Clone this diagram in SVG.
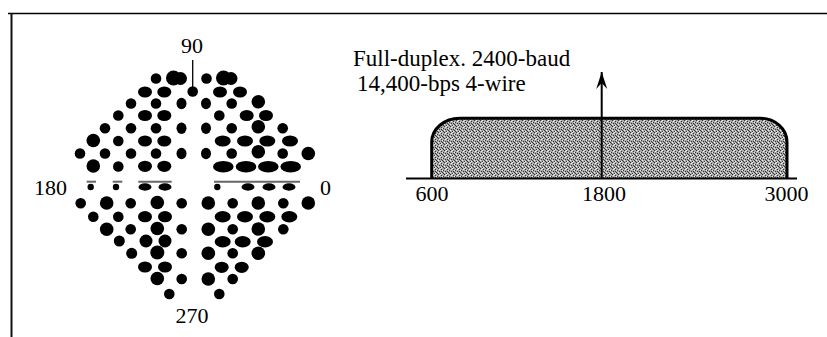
<svg xmlns="http://www.w3.org/2000/svg" width="827" height="337" viewBox="0 0 827 337">
<style>
.t{font-family:"Liberation Serif","Times New Roman",serif;font-size:22px;fill:#000}
.h{font-family:"Liberation Serif","Times New Roman",serif;font-size:23px;fill:#000}
.dots ellipse{fill:#000}
.gl{stroke:#666;stroke-width:2;fill:none}
</style>
<defs>
<pattern id="stip" width="6" height="6" patternUnits="userSpaceOnUse">
<rect width="6" height="6" fill="#aaaaaa"/>
<path d="M0 0h1v1H0zM3 1h1v1H3zM1 3h1v1H1zM4 4h1v1H4zM5 2h1v1H5zM2 5h1v1H2zM5 5h1v1H5zM3 3h1v1H3z" fill="#333"/>
<path d="M2 0h1v1H2zM0 4h1v1H0zM4 2h1v1H4zM1 1h1v1H1zM3 5h1v1H3z" fill="#eee"/>
</pattern>
<marker id="ah" viewBox="-17 -6 18 12" markerWidth="18" markerHeight="12" refX="0" refY="0" orient="auto" markerUnits="userSpaceOnUse">
<path d="M0,0 L-17,-5.5 L-11,0 L-17,5.5 Z" fill="#000"/>
</marker>
</defs>
<rect width="827" height="337" fill="#fff"/>
<g id="border" fill="none">
<line x1="8" y1="13.5" x2="827" y2="13.5" stroke="#000" stroke-width="1.5"/>
<line x1="11.5" y1="13" x2="11.5" y2="337" stroke="#111" stroke-width="2"/>
</g>
<g id="constellation">
<text class="t" x="192" y="53" text-anchor="middle">90</text>
<text class="t" x="67" y="195" text-anchor="end">180</text>
<text class="t" x="320" y="195">0</text>
<text class="t" x="192" y="323" text-anchor="middle">270</text>
<line x1="192.7" y1="60" x2="192.7" y2="90" stroke="#000" stroke-width="1.3"/>
<g class="gl">
<line x1="86.7" y1="181.7" x2="96" y2="181.7"/>
<line x1="112.7" y1="181.7" x2="122.3" y2="181.7"/>
<line x1="138.3" y1="181.7" x2="171.7" y2="181.7"/>
<line x1="214" y1="181.7" x2="300" y2="181.7"/>
</g>
<g class="dots">
<ellipse cx="156" cy="78.5" rx="5.3" ry="5.3"/>
<ellipse cx="173.5" cy="78" rx="7.5" ry="7.5"/>
<ellipse cx="180.5" cy="78.5" rx="6.5" ry="6.5"/>
<ellipse cx="206.5" cy="78.5" rx="5.3" ry="5.3"/>
<ellipse cx="223.5" cy="78" rx="7.5" ry="7.5"/>
<ellipse cx="231" cy="78.5" rx="6.5" ry="6.5"/>
<ellipse cx="145" cy="92" rx="7" ry="5.6"/>
<ellipse cx="164.3" cy="92" rx="7" ry="5.6"/>
<ellipse cx="192.7" cy="91.5" rx="5.3" ry="5.3"/>
<ellipse cx="220" cy="92" rx="7" ry="5.6"/>
<ellipse cx="240" cy="92" rx="7" ry="5.6"/>
<ellipse cx="131" cy="103.5" rx="5.3" ry="5.3"/>
<ellipse cx="156" cy="103.5" rx="5.3" ry="5.3"/>
<ellipse cx="181.5" cy="103.5" rx="5" ry="5.7"/>
<ellipse cx="206" cy="103.5" rx="5" ry="5.7"/>
<ellipse cx="231.7" cy="103.5" rx="5.3" ry="5.3"/>
<ellipse cx="258.3" cy="101.8" rx="6.8" ry="6.8"/>
<ellipse cx="118.3" cy="115.5" rx="5.3" ry="5.3"/>
<ellipse cx="145" cy="115.5" rx="7" ry="5.6"/>
<ellipse cx="164.3" cy="115.5" rx="7" ry="5.6"/>
<ellipse cx="219.3" cy="115.5" rx="5.3" ry="5.3"/>
<ellipse cx="246.7" cy="115.5" rx="7" ry="5.6"/>
<ellipse cx="266" cy="115.5" rx="7" ry="5.6"/>
<ellipse cx="105" cy="128.3" rx="5.3" ry="5.3"/>
<ellipse cx="131" cy="128.3" rx="5.3" ry="5.3"/>
<ellipse cx="156" cy="128.3" rx="5.3" ry="5.3"/>
<ellipse cx="181.5" cy="128.3" rx="5" ry="5.7"/>
<ellipse cx="206" cy="128.3" rx="5" ry="5.7"/>
<ellipse cx="231.7" cy="128.3" rx="5.3" ry="5.3"/>
<ellipse cx="258.3" cy="126.7" rx="6.8" ry="6.8"/>
<ellipse cx="282.7" cy="128.3" rx="5.3" ry="5.3"/>
<ellipse cx="93.3" cy="140.5" rx="6.8" ry="6.8"/>
<ellipse cx="118.3" cy="141" rx="5.3" ry="5.3"/>
<ellipse cx="145" cy="141" rx="7" ry="5.6"/>
<ellipse cx="164.3" cy="141" rx="7" ry="5.6"/>
<ellipse cx="222.7" cy="141" rx="8" ry="5.6"/>
<ellipse cx="245" cy="141" rx="8" ry="5.6"/>
<ellipse cx="267.3" cy="141" rx="8" ry="5.6"/>
<ellipse cx="290" cy="141" rx="8" ry="5.6"/>
<ellipse cx="80" cy="153.5" rx="5.3" ry="5.3"/>
<ellipse cx="105" cy="153.5" rx="5.3" ry="5.3"/>
<ellipse cx="131" cy="153.5" rx="5.3" ry="5.3"/>
<ellipse cx="156" cy="153.5" rx="5.3" ry="5.3"/>
<ellipse cx="181.5" cy="153.5" rx="5" ry="5.7"/>
<ellipse cx="206" cy="153.5" rx="5" ry="5.7"/>
<ellipse cx="231.7" cy="153.5" rx="5.3" ry="5.3"/>
<ellipse cx="258.3" cy="151.7" rx="6.8" ry="6.8"/>
<ellipse cx="282.7" cy="153.5" rx="5.3" ry="5.3"/>
<ellipse cx="308.3" cy="153.5" rx="6.8" ry="6.8"/>
<ellipse cx="93.3" cy="166" rx="6.8" ry="6.8"/>
<ellipse cx="118.3" cy="166.5" rx="5.3" ry="5.3"/>
<ellipse cx="145" cy="166.3" rx="7" ry="5.6"/>
<ellipse cx="164.3" cy="166.3" rx="7" ry="5.6"/>
<ellipse cx="223.3" cy="166.7" rx="10.3" ry="5.8"/>
<ellipse cx="246" cy="166.7" rx="10.3" ry="5.8"/>
<ellipse cx="268.3" cy="166.7" rx="10.3" ry="5.8"/>
<ellipse cx="290.7" cy="166.7" rx="10.3" ry="5.8"/>
<ellipse cx="90.7" cy="187" rx="3.2" ry="3.2"/>
<ellipse cx="116" cy="187" rx="3.2" ry="3.2"/>
<ellipse cx="145" cy="187" rx="6.5" ry="3.7"/>
<ellipse cx="165" cy="187" rx="6.5" ry="3.7"/>
<ellipse cx="217.3" cy="187" rx="3.2" ry="3.2"/>
<ellipse cx="248" cy="187" rx="6.5" ry="3.7"/>
<ellipse cx="269" cy="187" rx="6.5" ry="3.7"/>
<ellipse cx="289" cy="187" rx="6.5" ry="3.7"/>
<ellipse cx="80.7" cy="203.3" rx="5.3" ry="5.3"/>
<ellipse cx="106.7" cy="203" rx="6.8" ry="6.8"/>
<ellipse cx="130.7" cy="203.3" rx="5.3" ry="5.3"/>
<ellipse cx="157.3" cy="202.5" rx="6.8" ry="6.8"/>
<ellipse cx="181.7" cy="203.3" rx="5.3" ry="5.3"/>
<ellipse cx="208.3" cy="203" rx="6.8" ry="6.8"/>
<ellipse cx="232.7" cy="203.3" rx="5.3" ry="5.3"/>
<ellipse cx="258.3" cy="203" rx="6.8" ry="6.8"/>
<ellipse cx="283.3" cy="203.3" rx="5.3" ry="5.3"/>
<ellipse cx="308.3" cy="203" rx="6.8" ry="6.8"/>
<ellipse cx="93.3" cy="216.7" rx="5.3" ry="5.3"/>
<ellipse cx="118.3" cy="216.7" rx="5.3" ry="5.3"/>
<ellipse cx="145" cy="216.7" rx="7" ry="5.6"/>
<ellipse cx="165" cy="216.7" rx="7" ry="5.6"/>
<ellipse cx="222.7" cy="216.7" rx="8" ry="5.7"/>
<ellipse cx="245" cy="216.7" rx="8" ry="5.7"/>
<ellipse cx="267.3" cy="216.7" rx="8" ry="5.7"/>
<ellipse cx="289.3" cy="216.7" rx="8" ry="5.7"/>
<ellipse cx="106.7" cy="229.3" rx="6.8" ry="6.8"/>
<ellipse cx="130.7" cy="229.3" rx="5.3" ry="5.3"/>
<ellipse cx="157.3" cy="228.5" rx="6.8" ry="6.8"/>
<ellipse cx="181.7" cy="229.3" rx="5.3" ry="5.3"/>
<ellipse cx="208.3" cy="229.3" rx="6.8" ry="6.8"/>
<ellipse cx="232.7" cy="229.3" rx="5.3" ry="5.3"/>
<ellipse cx="258.3" cy="229" rx="6.8" ry="6.8"/>
<ellipse cx="283.3" cy="229.3" rx="5.3" ry="5.3"/>
<ellipse cx="119.3" cy="241" rx="5.5" ry="5.5"/>
<ellipse cx="146" cy="241" rx="6.5" ry="6.5"/>
<ellipse cx="165" cy="241" rx="6.5" ry="6.5"/>
<ellipse cx="222.7" cy="241.7" rx="8" ry="5.7"/>
<ellipse cx="242.7" cy="241.7" rx="8" ry="5.7"/>
<ellipse cx="265" cy="241.7" rx="8" ry="5.7"/>
<ellipse cx="131.7" cy="253.3" rx="5.5" ry="5.5"/>
<ellipse cx="157.3" cy="252.5" rx="7" ry="7"/>
<ellipse cx="181.7" cy="253.3" rx="5.3" ry="5.3"/>
<ellipse cx="208.3" cy="253.3" rx="6.8" ry="6.8"/>
<ellipse cx="232.7" cy="253.3" rx="5.3" ry="5.3"/>
<ellipse cx="258.3" cy="253.3" rx="6.8" ry="6.8"/>
<ellipse cx="145" cy="267" rx="7" ry="5.6"/>
<ellipse cx="165" cy="267" rx="7" ry="5.6"/>
<ellipse cx="221.7" cy="267.3" rx="7" ry="5.6"/>
<ellipse cx="241.7" cy="267.3" rx="7" ry="5.6"/>
<ellipse cx="157.3" cy="278.5" rx="6.8" ry="6.8"/>
<ellipse cx="181.7" cy="279" rx="5.3" ry="5.3"/>
<ellipse cx="208.3" cy="279" rx="6.8" ry="6.8"/>
<ellipse cx="232.7" cy="279" rx="5.3" ry="5.3"/>
<ellipse cx="169.3" cy="294" rx="5.3" ry="5.3"/>
<ellipse cx="219.3" cy="294" rx="5.3" ry="5.3"/>
</g>
</g>
<g id="spectrum">
<text class="h" x="353" y="66">Full-duplex. 2400-baud</text>
<text class="h" x="357" y="91">14,400-bps 4-wire</text>
<path d="M431.7 178.5 V142 A28 23.7 0 0 1 459.7 118.3 H760 A27 23.7 0 0 1 787 142 V178.5 Z" fill="url(#stip)"/>
<path d="M431.7 178.5 V142 A28 23.7 0 0 1 459.7 118.3 H760 A27 23.7 0 0 1 787 142 V178.5" fill="none" stroke="#000" stroke-width="3"/>
<line x1="406" y1="178.5" x2="797" y2="178.5" stroke="#000" stroke-width="2"/>
<line x1="601.7" y1="178.5" x2="601.7" y2="72" stroke="#000" stroke-width="2" marker-end="url(#ah)"/>
<text class="t" x="432" y="201" text-anchor="middle">600</text>
<text class="t" x="604" y="201" text-anchor="middle">1800</text>
<text class="t" x="786.5" y="201" text-anchor="middle">3000</text>
</g>
</svg>
